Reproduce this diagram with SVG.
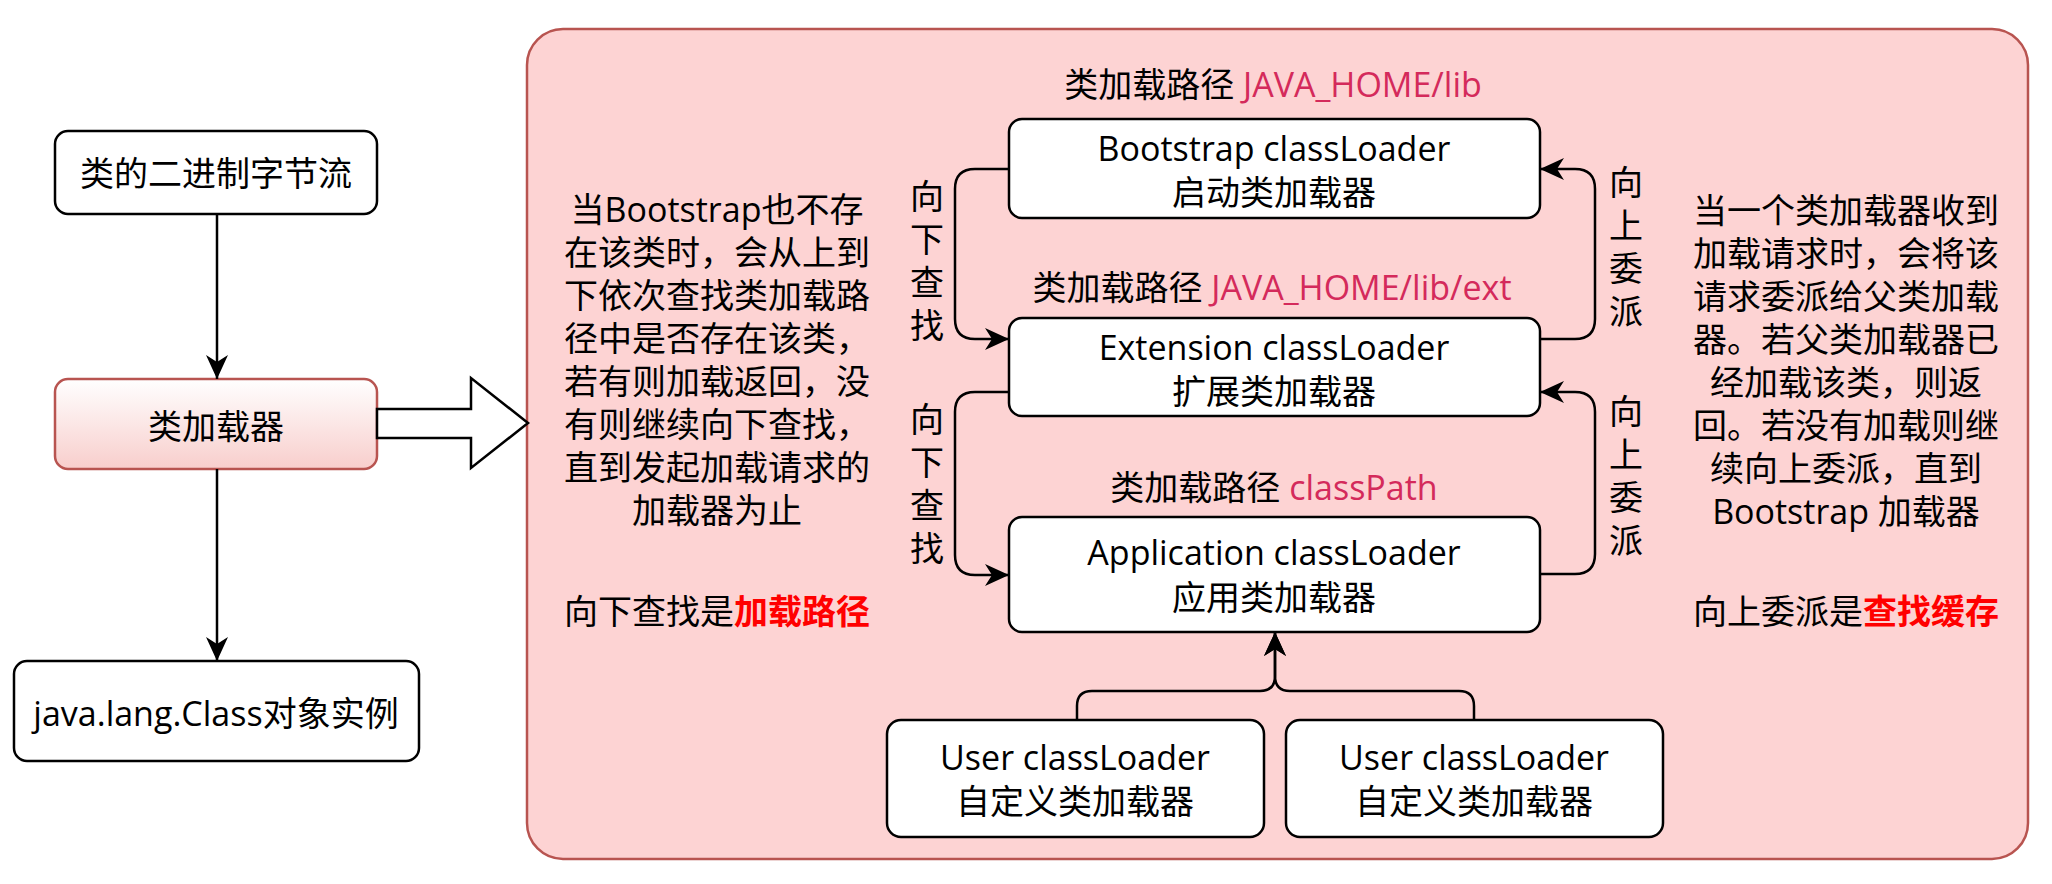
<svg xmlns="http://www.w3.org/2000/svg" width="2052" height="884" viewBox="0 0 2052 884">
<defs>
<linearGradient id="gradPink" x1="0" y1="0" x2="0" y2="1">
<stop offset="0" stop-color="#ffffff"/>
<stop offset="1" stop-color="#f8cecc"/>
</linearGradient>
<marker id="arr" viewBox="-26 -14 28 28" markerWidth="28" markerHeight="28" markerUnits="userSpaceOnUse" refX="0" refY="0" orient="auto">
<path d="M0,0 L-24,-11 L-17,0 L-24,11 Z" fill="#000"/>
</marker>
<style>
text{font-family:"Open Sans","Noto Sans CJK SC",sans-serif;font-size:34px;fill:#000;text-anchor:middle}
.box{fill:#fff;stroke:#000;stroke-width:2.5}
.con{fill:none;stroke:#000;stroke-width:2.5;marker-end:url(#arr)}
.path{fill:#d42a5b}
.red{fill:#ff0000;font-weight:bold}
</style>
</defs>
<rect width="2052" height="884" fill="#ffffff"/>

<g id="container">
<rect x="527" y="29" width="1501" height="830" rx="36" ry="36" fill="#fdd3d3" stroke="#b85450" stroke-width="2.5"/>
</g>

<g id="node-bytes">
<rect class="box" x="55" y="131" width="322" height="83" rx="13"/>
<text x="216" y="186">类的二进制字节流</text>
</g>
<g id="node-classloader">
<rect x="55" y="379" width="322" height="90" rx="13" fill="url(#gradPink)" stroke="#b85450" stroke-width="2.5"/>
<text x="216" y="439">类加载器</text>
</g>
<g id="node-class">
<rect class="box" x="14" y="661" width="405" height="100" rx="13"/>
<text x="216" y="726">java.lang.Class对象实例</text>
</g>
<g id="big-arrow">
<polygon points="377,409 471,409 471,378 528,423 471,468 471,438 377,438" fill="#fff" stroke="#000" stroke-width="2.5"/>
</g>

<g id="node-bootstrap">
<text x="1273" y="97">类加载路径 <tspan class="path">JAVA_HOME/lib</tspan></text>
<rect class="box" x="1009" y="119" width="531" height="99" rx="13"/>
<text x="1274" y="161">Bootstrap classLoader</text>
<text x="1274" y="205">启动类加载器</text>
</g>
<g id="node-extension">
<text x="1272" y="300">类加载路径 <tspan class="path">JAVA_HOME/lib/ext</tspan></text>
<rect class="box" x="1009" y="318" width="531" height="98" rx="13"/>
<text x="1274" y="360">Extension classLoader</text>
<text x="1274" y="404">扩展类加载器</text>
</g>
<g id="node-application">
<text x="1274" y="500">类加载路径 <tspan class="path">classPath</tspan></text>
<rect class="box" x="1009" y="517" width="531" height="115" rx="13"/>
<text x="1274" y="565">Application classLoader</text>
<text x="1274" y="610">应用类加载器</text>
</g>
<g id="node-user1">
<rect class="box" x="887" y="720" width="377" height="117" rx="14"/>
<text x="1075" y="770">User classLoader</text>
<text x="1075" y="814">自定义类加载器</text>
</g>
<g id="node-user2">
<rect class="box" x="1286" y="720" width="377" height="117" rx="14"/>
<text x="1474" y="770">User classLoader</text>
<text x="1474" y="814">自定义类加载器</text>
</g>

<g id="text-left">
<text x="717" y="222">当Bootstrap也不存</text>
<text x="717" y="265">在该类时，会从上到</text>
<text x="717" y="308">下依次查找类加载路</text>
<text x="717" y="351">径中是否存在该类，</text>
<text x="717" y="394">若有则加载返回，没</text>
<text x="717" y="437">有则继续向下查找，</text>
<text x="717" y="480">直到发起加载请求的</text>
<text x="717" y="523">加载器为止</text>
<text x="717" y="624">向下查找是<tspan class="red">加载路径</tspan></text>
</g>
<g id="text-right">
<text x="1846" y="223">当一个类加载器收到</text>
<text x="1846" y="266">加载请求时，会将该</text>
<text x="1846" y="309">请求委派给父类加载</text>
<text x="1846" y="352">器。若父类加载器已</text>
<text x="1846" y="395">经加载该类，则返</text>
<text x="1846" y="438">回。若没有加载则继</text>
<text x="1846" y="481">续向上委派，直到</text>
<text x="1846" y="524">Bootstrap 加载器</text>
<text x="1846" y="624">向上委派是<tspan class="red">查找缓存</tspan></text>
</g>

<g id="labels">
<text x="927" y="209">向</text><text x="927" y="252">下</text><text x="927" y="295">查</text><text x="927" y="338">找</text>
<text x="927" y="432">向</text><text x="927" y="475">下</text><text x="927" y="518">查</text><text x="927" y="561">找</text>
<text x="1626" y="195">向</text><text x="1626" y="238">上</text><text x="1626" y="281">委</text><text x="1626" y="324">派</text>
<text x="1626" y="424">向</text><text x="1626" y="467">上</text><text x="1626" y="510">委</text><text x="1626" y="553">派</text>
</g>

<g id="connectors">
<path class="con" d="M217,214 V379"/>
<path class="con" d="M217,469 V661"/>
<path class="con" d="M1009,169 H975 Q955,169 955,189 V319 Q955,339 975,339 H1009"/>
<path class="con" d="M1009,392 H975 Q955,392 955,412 V555 Q955,575 975,575 H1009"/>
<path class="con" d="M1540,339 H1575 Q1595,339 1595,319 V189 Q1595,169 1575,169 H1540"/>
<path class="con" d="M1540,574 H1575 Q1595,574 1595,554 V412 Q1595,392 1575,392 H1540"/>
<path class="con" d="M1077,720 V706 Q1077,691 1092,691 H1260 Q1275,691 1275,676 V632"/>
<path class="con" d="M1474,720 V706 Q1474,691 1459,691 H1290 Q1275,691 1275,676 V632"/>
</g>
</svg>
